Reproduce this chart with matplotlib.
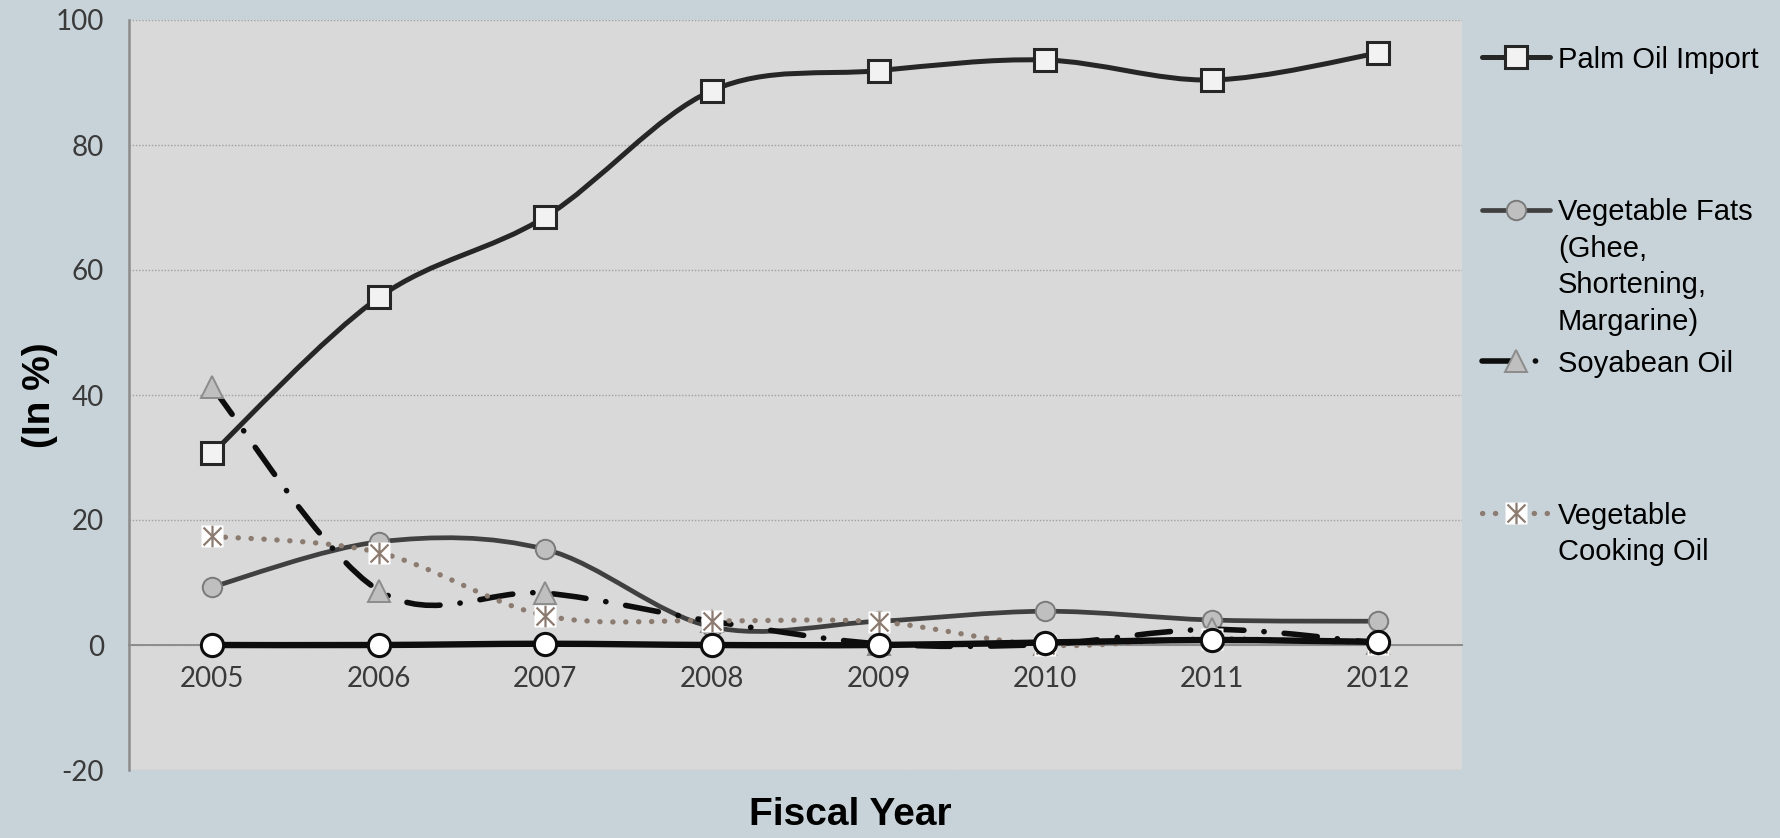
import numpy as np
import matplotlib.pyplot as plt
from matplotlib.path import Path
from matplotlib.patches import PathPatch
from matplotlib.lines import Line2D

plt.rcParams['axes.unicode_minus'] = False

# Share of edible oil imports by product (in %)
years = [2005, 2006, 2007, 2008, 2009, 2010, 2011, 2012]
palm_oil = [30.7, 55.6, 68.5, 88.7, 91.9, 93.6, 90.4, 94.7]
veg_fats = [9.3, 16.5, 15.3, 2.9, 3.8, 5.4, 4.0, 3.8]
soyabean = [41.2, 8.7, 8.3, 3.8, 0.2, 0.1, 2.5, 0.3]
cooking_oil = [17.4, 14.8, 4.7, 3.9, 3.7, 0.0, 1.0, 0.2]
other_oils = [0.0, 0.0, 0.2, 0.0, 0.0, 0.4, 0.8, 0.5]

yticks = [-20, 0, 20, 40, 60, 80, 100]

# asterisk marker: an X with a vertical bar
star = Path([(-1, -1), (1, 1), (-1, 1), (1, -1), (0, -1.2), (0, 1.2)],
            [Path.MOVETO, Path.LINETO, Path.MOVETO, Path.LINETO, Path.MOVETO, Path.LINETO])

dashdot = (0, (6.0, 3.6, 0.05, 3.6))
dots = (0, (0.05, 2.4))

styles = {
    'palm': dict(color='#262626', lw=3.6, ls='-', marker='s', ms=15.5, mfc='#f2f2f2', mec='#262626', mew=2.2),
    'fats': dict(color='#404040', lw=3.4, ls='-', marker='o', ms=14, mfc='#bfbfbf', mec='#7a7a7a', mew=1.4),
    'soy': dict(color='#0d0d0d', lw=4.0, ls=dashdot, marker='^', ms=16, mfc='#bfbfbf', mec='#8c8c8c', mew=1.4),
    'cook': dict(color='#8c7b70', lw=3.8, ls=dots, marker=star, ms=15.5, mfc='none', mec='#8c7b70', mew=1.6),
    'other': dict(color='#0d0d0d', lw=4.6, ls='-', marker='o', ms=16, mfc='white', mec='#0d0d0d', mew=2.2),
}


def smooth_path(x, y):
    # Catmull-Rom style bezier through every point
    pts = np.column_stack([x, y]).astype(float)
    n = len(pts)
    verts = [pts[0]]
    codes = [Path.MOVETO]
    for i in range(n - 1):
        p0 = pts[i - 1] if i > 0 else pts[i]
        p1 = pts[i]
        p2 = pts[i + 1]
        p3 = pts[i + 2] if i + 2 < n else pts[i + 1]
        verts += [p1 + (p2 - p0) / 6, p2 - (p3 - p1) / 6, p2]
        codes += [Path.CURVE4] * 3
    return Path(verts, codes)


def draw_series(ax, x, y, st, z):
    patch = PathPatch(smooth_path(x, y), fill=False, edgecolor=st['color'],
                      lw=st['lw'], linestyle=st['ls'], capstyle='round',
                      joinstyle='round', zorder=z)
    ax.add_patch(patch)
    if st['marker'] is star:
        ax.plot(x, y, ls='none', marker='s', ms=st['ms'], mfc='white', mec='none', zorder=z + 0.1)
    ax.plot(x, y, ls='none', marker=st['marker'], ms=st['ms'], mfc=st['mfc'],
            mec=st['mec'], mew=st['mew'], zorder=z + 0.2)


fig = plt.figure(figsize=(17.81, 8.38), dpi=100, facecolor='#c8d3d9')
W, H = 1781, 838
ax = fig.add_axes([129 / W, 1 - 770 / H, 1332.5 / W, 750 / H])
ax.set_facecolor('#d8d9d8')

draw_series(ax, years, palm_oil, styles['palm'], 3)
draw_series(ax, years, veg_fats, styles['fats'], 4)
draw_series(ax, years, soyabean, styles['soy'], 5)
draw_series(ax, years, cooking_oil, styles['cook'], 6)
draw_series(ax, years, other_oils, styles['other'], 7)

ax.set_xlim(2004.5, 2012.5)
ax.set_ylim(-20, 100)
ax.set_xticks(years)
ax.set_yticks(yticks)
ax.set_axisbelow(True)
ax.yaxis.grid(True, color='#a0a0a0', lw=1.0, linestyle=(0, (1, 1.3)))

for side in ['top', 'right']:
    ax.spines[side].set_visible(False)
ax.spines['bottom'].set_position(('data', 0))
ax.spines['bottom'].set_color('#8c8c8c')
ax.spines['bottom'].set_linewidth(1.4)
ax.spines['bottom'].set_zorder(2)
ax.spines['left'].set_color('#8c8c8c')
ax.spines['left'].set_linewidth(1.8)

ax.tick_params(axis='both', length=0, colors='#3a3a3a')
ax.tick_params(axis='x', pad=15)
ax.tick_params(axis='y', pad=18)
for lab in ax.get_xticklabels() + ax.get_yticklabels():
    lab.set_fontfamily(['Lato', 'DejaVu Sans'])
    lab.set_fontsize(20)

ax.set_xlabel('Fiscal Year', fontsize=28, fontweight='bold', family='Liberation Sans', va='center')
ax.xaxis.set_label_coords(0.541, -0.06)
ax.set_ylabel('(In %)', fontsize=28, fontweight='bold', family='Liberation Sans', va='center')
ax.yaxis.set_label_coords(-0.0665, 0.50)

# legend drawn entry by entry on the right
legend_rows = [
    ('palm', ['Palm Oil Import'], 57),
    ('fats', ['Vegetable Fats', '(Ghee,', 'Shortening,', 'Margarine)'], 210),
    ('soy', ['Soyabean Oil'], 361),
    ('cook', ['Vegetable', 'Cooking Oil'], 513),
]
line_pitch = 36.4
x0, x1, xt = 1482, 1550, 1558
for key, lines, ypx in legend_rows:
    st = styles[key]
    yf = 1 - ypx / H
    xs = [x0 / W, (x0 + x1) / 2 / W, x1 / W]
    handle = Line2D(xs, [yf] * 3, transform=fig.transFigure, color=st['color'], lw=st['lw'],
                    ls=st['ls'], solid_capstyle='round', dash_capstyle='round')
    fig.add_artist(handle)
    if st['marker'] is star:
        fig.add_artist(Line2D([xs[1]], [yf], transform=fig.transFigure, ls='none', marker='s',
                              ms=st['ms'], mfc='white', mec='none'))
    fig.add_artist(Line2D([xs[1]], [yf], transform=fig.transFigure, ls='none', marker=st['marker'],
                          ms=st['ms'], mfc=st['mfc'], mec=st['mec'], mew=st['mew']))
    for k, txt in enumerate(lines):
        base = ypx + k * line_pitch + 10.5
        fig.text(xt / W, 1 - base / H, txt, fontsize=21, family='Liberation Sans',
                 color='black', va='baseline', ha='left')

fig.savefig('out.png', dpi=100, facecolor=fig.get_facecolor())
